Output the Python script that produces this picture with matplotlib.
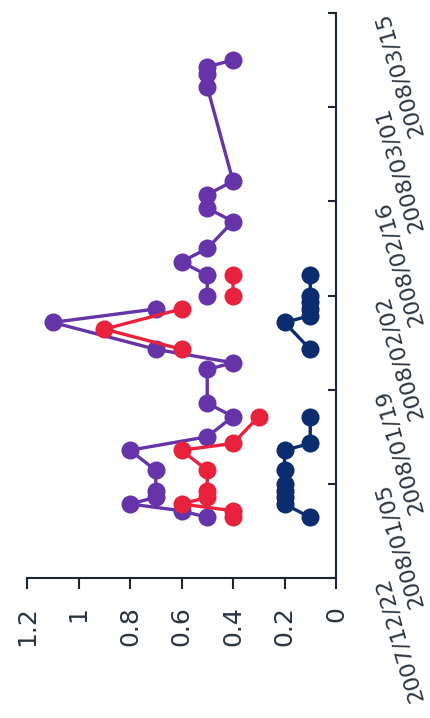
import matplotlib
matplotlib.use("Agg")
import matplotlib.pyplot as plt
import numpy as np
import pandas as pd

# Measurement series (date, value); NaN marks a break in the line
purple_dates = ["2007-12-31", "2008-01-01", "2008-01-02", "2008-01-03", "2008-01-04",
                "2008-01-07", "2008-01-10", "2008-01-12", "2008-01-15", "2008-01-17",
                "2008-01-22", "2008-01-23", "2008-01-25", "2008-01-29", "2008-01-31",
                "2008-02-01",
                "2008-02-02", "2008-02-05", "2008-02-07", "2008-02-09", "2008-02-13",
                "2008-02-15", "2008-02-17", "2008-02-19", "2008-03-04", "2008-03-06",
                "2008-03-07", "2008-03-08"]
purple_values = [0.5, 0.6, 0.8, 0.7, 0.7,
                 0.7, 0.8, 0.5, 0.4, 0.5,
                 0.5, 0.4, 0.7, 1.1, 0.7,
                 np.nan,
                 0.5, 0.5, 0.6, 0.5, 0.4,
                 0.5, 0.5, 0.4, 0.5, 0.5,
                 0.5, 0.4]

red_dates = ["2007-12-31", "2008-01-01", "2008-01-02", "2008-01-03", "2008-01-04",
             "2008-01-07", "2008-01-10", "2008-01-11", "2008-01-15",
             "2008-01-20",
             "2008-01-25", "2008-01-28", "2008-01-31",
             "2008-02-01",
             "2008-02-02", "2008-02-05"]
red_values = [0.4, 0.4, 0.6, 0.5, 0.5,
              0.5, 0.6, 0.4, 0.3,
              np.nan,
              0.6, 0.9, 0.6,
              np.nan,
              0.4, 0.4]

navy_dates = ["2007-12-31", "2008-01-02", "2008-01-03", "2008-01-04", "2008-01-05",
              "2008-01-07", "2008-01-10", "2008-01-11", "2008-01-15",
              "2008-01-20",
              "2008-01-25", "2008-01-29", "2008-01-30", "2008-01-31", "2008-02-01",
              "2008-02-02", "2008-02-05"]
navy_values = [0.1, 0.2, 0.2, 0.2, 0.2,
               0.2, 0.2, 0.1, 0.1,
               np.nan,
               0.1, 0.2, 0.1, 0.1, 0.1,
               0.1, 0.1]

value_ticks = [0, 0.2, 0.4, 0.6, 0.8, 1, 1.2]
value_tick_labels = ["0", "0.2", "0.4", "0.6", "0.8", "1", "1.2"]
date_ticks = ["2007-12-22", "2008-01-05", "2008-01-19", "2008-02-02",
              "2008-02-16", "2008-03-01", "2008-03-15"]
date_tick_labels = ["2007/12/22", "2008/01/05", "2008/01/19", "2008/02/02",
                    "2008/02/16", "2008/03/01", "2008/03/15"]

PURPLE = "#6534a8"
RED = "#e8223c"
NAVY = "#0b2c6e"
AXIS = "#1b2733"
TEXT = "#2a3440"

fig = plt.figure(figsize=(4.30, 7.18), dpi=100)
ax = fig.add_axes([27 / 430, 140 / 718, 309 / 430, 565 / 718])

style = dict(marker="o", markersize=13, markeredgewidth=0, linewidth=2.4)
ax.plot(purple_values, pd.to_datetime(purple_dates), color=PURPLE, **style, zorder=3)
ax.plot(red_values, pd.to_datetime(red_dates), color=RED, **style, zorder=4)
ax.plot(navy_values, pd.to_datetime(navy_dates), color=NAVY, **style, zorder=5)

# value axis runs along the bottom, reversed
ax.set_xlim(1.2, 0)
ax.set_xticks(value_ticks)
ax.set_xticklabels(value_tick_labels, rotation=90, fontsize=18, color=TEXT)
ax.tick_params(axis="x", direction="out", length=8, width=1.5, pad=12, color=AXIS)

# date axis runs along the right side
ax.set_ylim(pd.Timestamp(date_ticks[0]), pd.Timestamp(date_ticks[-1]))
ax.yaxis.tick_right()
ax.set_yticks(pd.to_datetime(date_ticks))
ax.set_yticklabels(date_tick_labels, rotation=106, ha="right", va="center",
                   rotation_mode="anchor", fontsize=16, color=TEXT)
ax.tick_params(axis="y", direction="in", length=6, width=1.5, pad=33, color=AXIS)

for side in ("top", "left"):
    ax.spines[side].set_visible(False)
for side in ("bottom", "right"):
    ax.spines[side].set_color(AXIS)
    ax.spines[side].set_linewidth(1.5)

ax.set_facecolor("white")
fig.patch.set_facecolor("white")
fig.savefig("out.png", dpi=100)
